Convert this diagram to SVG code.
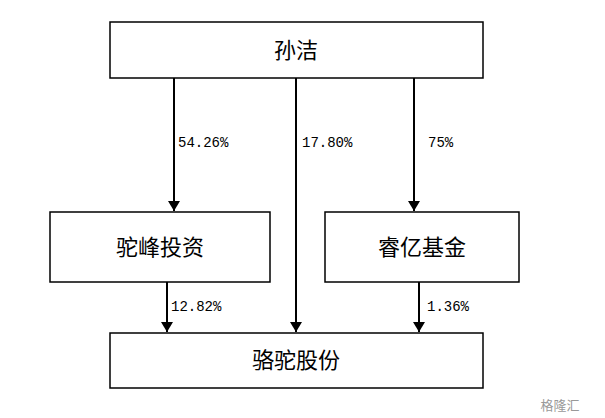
<svg xmlns="http://www.w3.org/2000/svg" width="605" height="418" viewBox="0 0 605 418">
<defs><marker id="a" markerWidth="10" markerHeight="12" refX="10" refY="6" orient="auto" markerUnits="userSpaceOnUse"><path d="M0,0L10,6L0,12z" fill="#000"/></marker></defs>
<style>.b{fill:#fff;stroke:#000;stroke-width:1.5}.t{font-family:"Noto Sans CJK SC",sans-serif;font-size:22px;text-anchor:middle}.l{font-family:"Liberation Mono",monospace;font-size:14px}line{stroke:#000;stroke-width:2;marker-end:url(#a)}</style>
<rect width="605" height="418" fill="#fff"/>
<g id="connectors">
<line x1="174" y1="78" x2="174" y2="211"/>
<line x1="296" y1="78" x2="296" y2="332"/>
<line x1="414" y1="78" x2="414" y2="211"/>
<line x1="167" y1="282" x2="167" y2="332"/>
<line x1="419" y1="282" x2="419" y2="332"/>
<text class="l" x="178" y="147">54.26%</text>
<text class="l" x="302" y="147">17.80%</text>
<text class="l" x="428" y="147">75%</text>
<text class="l" x="171" y="311">12.82%</text>
<text class="l" x="427" y="311">1.36%</text>
</g>
<g id="n1"><rect class="b" x="110" y="22" width="373" height="56"/><text class="t" x="296" y="58">孙洁</text></g>
<g id="n2"><rect class="b" x="50" y="212" width="220" height="70"/><text class="t" x="160" y="255">驼峰投资</text></g>
<g id="n3"><rect class="b" x="325" y="212" width="194" height="70"/><text class="t" x="422" y="255">睿亿基金</text></g>
<g id="n4"><rect class="b" x="110" y="333" width="373" height="55"/><text class="t" x="296" y="368">骆驼股份</text></g>
<text x="560" y="410" font-family="Noto Sans CJK SC,sans-serif" font-size="13" fill="#999" text-anchor="middle">格隆汇</text>
</svg>
